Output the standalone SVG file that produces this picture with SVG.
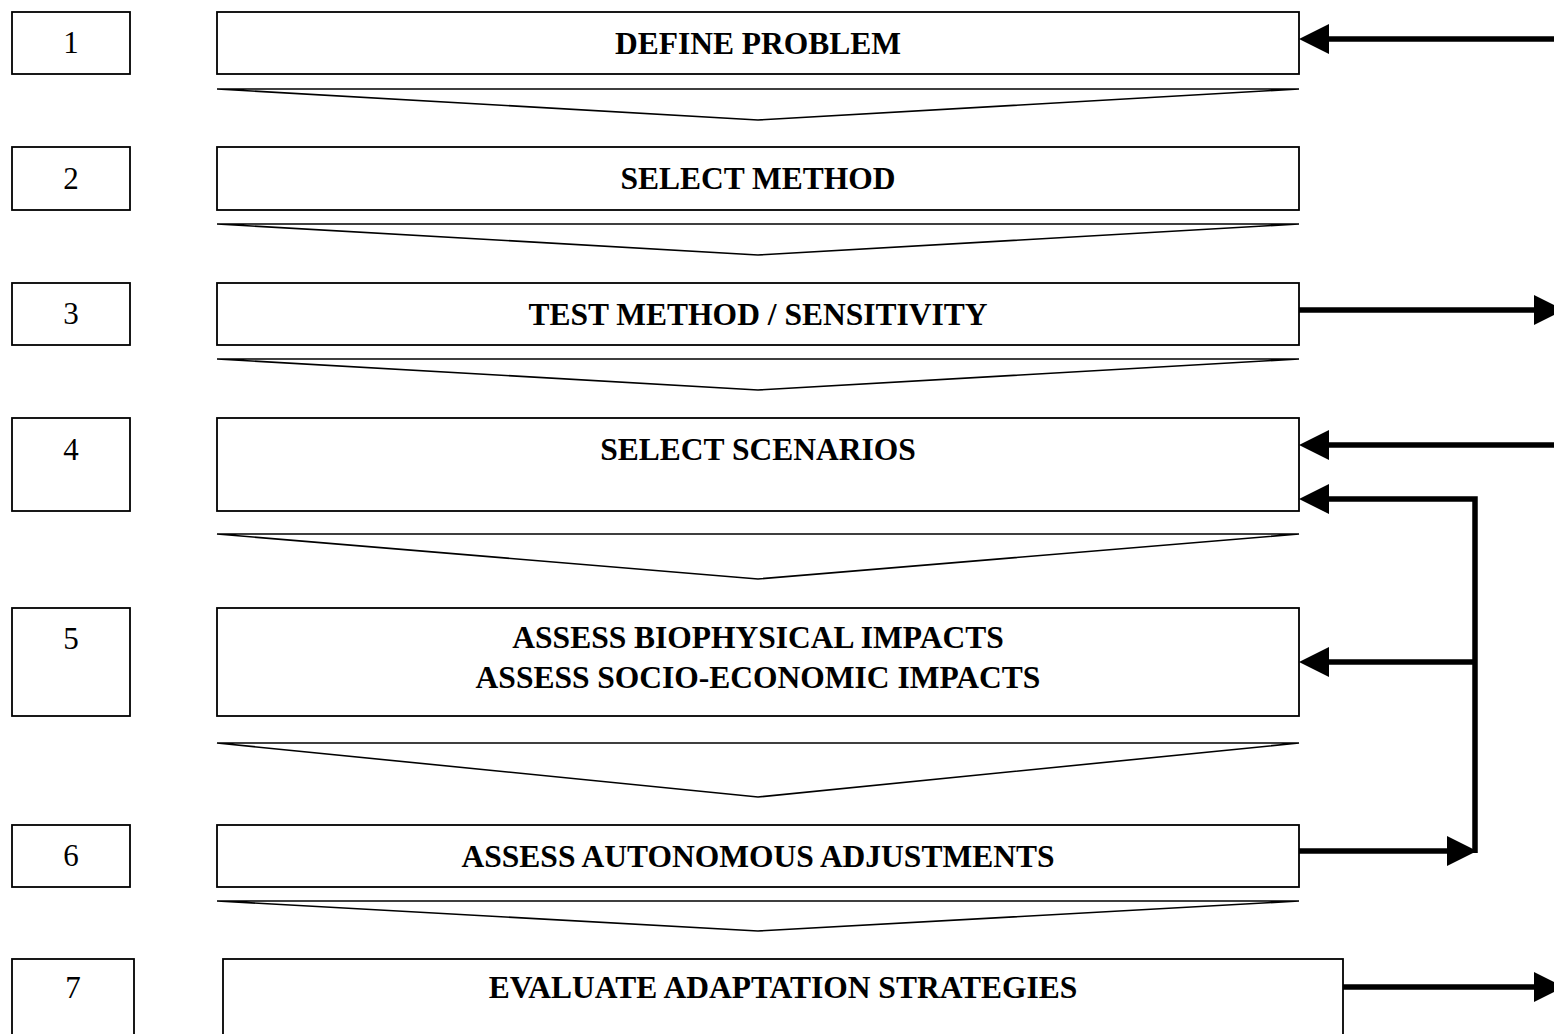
<svg xmlns="http://www.w3.org/2000/svg" width="1554" height="1034" viewBox="0 0 1554 1034">
  <style>
    .box { fill: #fff; stroke: #000; stroke-width: 1.8; }
    .chev { fill: #fff; stroke: #000; stroke-width: 1.6; stroke-linejoin: miter; }
    .num { font-family: "Liberation Serif", "Times New Roman", serif; font-size: 31px; fill: #000; text-anchor: middle; }
    .lbl { font-family: "Liberation Serif", "Times New Roman", serif; font-size: 31.5px; font-weight: bold; fill: #000; text-anchor: middle; }
    .conn { fill: none; stroke: #000; stroke-width: 5.5; stroke-linejoin: miter; marker-end: url(#head); }
  </style>
  <defs>
    <marker id="head" viewBox="0 0 30 30" refX="2" refY="15" markerWidth="30" markerHeight="30" markerUnits="userSpaceOnUse" orient="auto">
      <path d="M0,0 L30,15 L0,30 z" fill="#000"/>
    </marker>
  </defs>
  <rect width="1554" height="1034" fill="#fff"/>

  <!-- step 1 -->
  <g id="step1">
    <rect class="box" x="12" y="12" width="118" height="62"/>
    <text class="num" x="71" y="53">1</text>
    <rect class="box" x="217" y="12" width="1082" height="62"/>
    <text class="lbl" x="758" y="54">DEFINE PROBLEM</text>
  </g>
  <polygon id="flow1" class="chev" points="217,89 1299,89 758,120"/>

  <!-- step 2 -->
  <g id="step2">
    <rect class="box" x="12" y="147" width="118" height="63"/>
    <text class="num" x="71" y="189">2</text>
    <rect class="box" x="217" y="147" width="1082" height="63"/>
    <text class="lbl" x="758" y="189">SELECT METHOD</text>
  </g>
  <polygon id="flow2" class="chev" points="217,224 1299,224 758,255"/>

  <!-- step 3 -->
  <g id="step3">
    <rect class="box" x="12" y="283" width="118" height="62"/>
    <text class="num" x="71" y="324">3</text>
    <rect class="box" x="217" y="283" width="1082" height="62"/>
    <text class="lbl" x="758" y="325">TEST METHOD / SENSITIVITY</text>
  </g>
  <polygon id="flow3" class="chev" points="217,359 1299,359 758,390"/>

  <!-- step 4 -->
  <g id="step4">
    <rect class="box" x="12" y="418" width="118" height="93"/>
    <text class="num" x="71" y="460">4</text>
    <rect class="box" x="217" y="418" width="1082" height="93"/>
    <text class="lbl" x="758" y="460">SELECT SCENARIOS</text>
  </g>
  <polygon id="flow4" class="chev" points="217,534 1299,534 758,579"/>

  <!-- step 5 -->
  <g id="step5">
    <rect class="box" x="12" y="608" width="118" height="108"/>
    <text class="num" x="71" y="649">5</text>
    <rect class="box" x="217" y="608" width="1082" height="108"/>
    <text class="lbl" x="758" y="648">ASSESS BIOPHYSICAL IMPACTS</text>
    <text class="lbl" x="758" y="688">ASSESS SOCIO-ECONOMIC IMPACTS</text>
  </g>
  <polygon id="flow5" class="chev" points="217,743 1299,743 758,797"/>

  <!-- step 6 -->
  <g id="step6">
    <rect class="box" x="12" y="825" width="118" height="62"/>
    <text class="num" x="71" y="866">6</text>
    <rect class="box" x="217" y="825" width="1082" height="62"/>
    <text class="lbl" x="758" y="867">ASSESS AUTONOMOUS ADJUSTMENTS</text>
  </g>
  <polygon id="flow6" class="chev" points="217,901 1299,901 758,931"/>

  <!-- step 7 -->
  <g id="step7">
    <rect class="box" x="12" y="959" width="122" height="90"/>
    <text class="num" x="73" y="998">7</text>
    <rect class="box" x="223" y="959" width="1120" height="90"/>
    <text class="lbl" x="783" y="998">EVALUATE ADAPTATION STRATEGIES</text>
  </g>

  <!-- feedback and outgoing connectors -->
  <g id="connectors">
    <path class="conn" d="M1556,39 H1327"/>
    <path class="conn" d="M1299,310 H1536"/>
    <path class="conn" d="M1556,445 H1327"/>
    <path class="conn" d="M1475,853 V499 H1327"/>
    <path class="conn" d="M1475,662 H1327"/>
    <path class="conn" d="M1299,851 H1449"/>
    <path class="conn" d="M1343,987 H1536"/>
  </g>
</svg>
